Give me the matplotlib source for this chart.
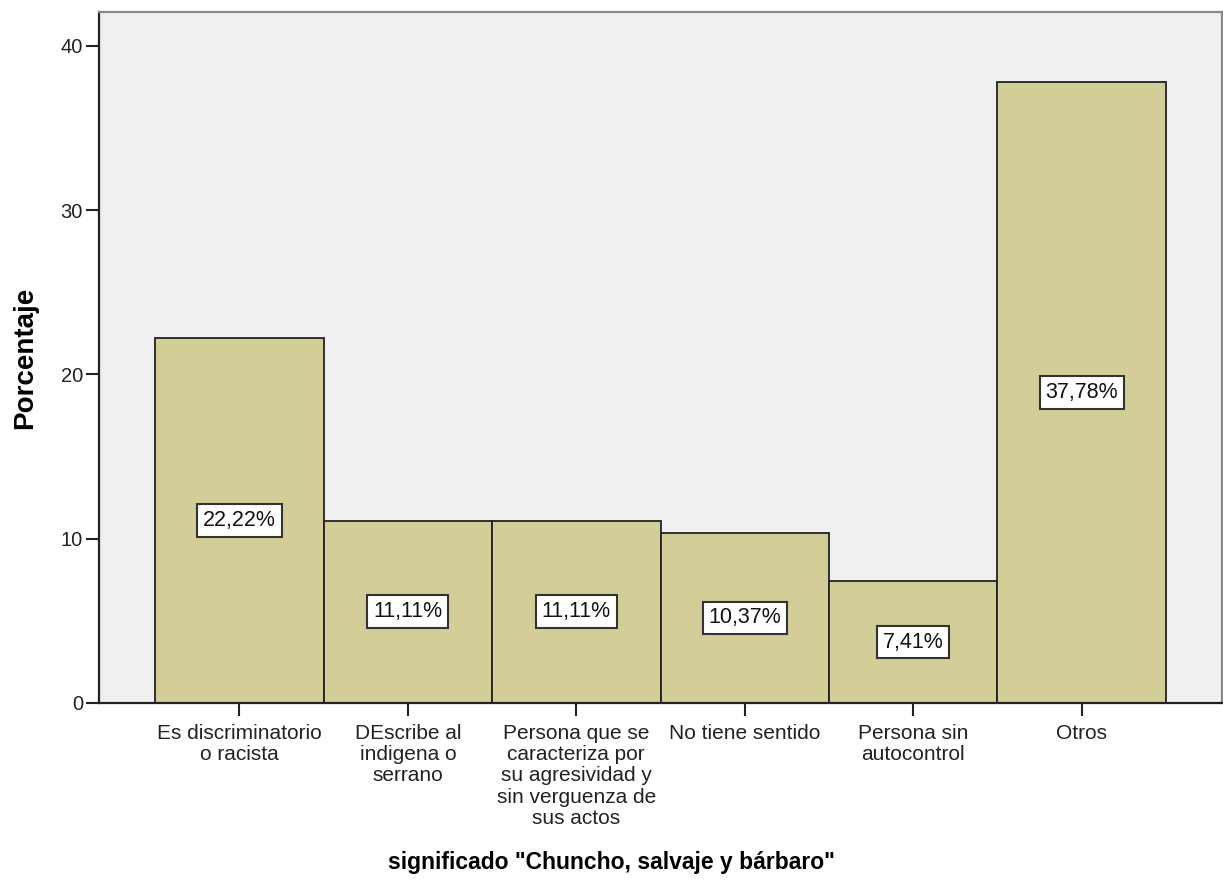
import matplotlib
matplotlib.use("Agg")
import matplotlib.pyplot as plt

# data
categories = [
    "Es discriminatorio\no racista",
    "DEscribe al\nindigena o\nserrano",
    "Persona que se\ncaracteriza por\nsu agresividad y\nsin verguenza de\nsus actos",
    "No tiene sentido",
    "Persona sin\nautocontrol",
    "Otros",
]
percentages = [22.22, 11.11, 11.11, 10.37, 7.41, 37.78]
value_labels = ["22,22%", "11,11%", "11,11%", "10,37%", "7,41%", "37,78%"]

plt.rcParams["font.family"] = ["Liberation Sans", "DejaVu Sans"]

fig = plt.figure(figsize=(12.23, 8.82), dpi=100)
# axes box placed to match the pixel layout of the original
ax = fig.add_axes([99 / 1223, 1 - 703 / 882, (1222 - 99) / 1223, (703 - 12) / 882])
ax.set_facecolor("#F0F0F0")

x = list(range(len(categories)))
ax.bar(x, percentages, width=1.0, color="#D3CE97", edgecolor="#222222", linewidth=1.3, zorder=2)

for xi, val, lab in zip(x, percentages, value_labels):
    ax.text(xi, val / 2, lab, ha="center", va="center", fontsize=15.5, color="#111111", zorder=3,
            bbox=dict(boxstyle="square,pad=0.27", facecolor="white", edgecolor="#333333", linewidth=1.5))

ax.set_xlim(-0.5 - 1 / 3, len(categories) - 0.5 + 1 / 3)
ax.set_ylim(0, 42.07)
ax.set_yticks([0, 10, 20, 30, 40])
ax.set_xticks(x)
ax.set_xticklabels(categories, fontsize=15, linespacing=1.15)
ax.tick_params(axis="y", labelsize=14.5, length=9.5, width=1.5, pad=2, colors="#222222")
ax.tick_params(axis="x", length=9, width=1.5, pad=6, colors="#222222")

for side in ["left", "bottom"]:
    ax.spines[side].set_linewidth(1.6)
    ax.spines[side].set_color("#222222")
for side in ["top", "right"]:
    ax.spines[side].set_linewidth(1.6)
    ax.spines[side].set_color("#888888")

ax.set_ylabel("Porcentaje", fontsize=20, fontweight="bold")
ax.set_xlabel('significado "Chuncho, salvaje y bárbaro"', fontsize=16.5, fontweight="bold")
ax.yaxis.set_label_coords((25 - 99) / 1123, 0.5)
ax.yaxis.label.set_va("center")
ax.xaxis.set_label_coords((611 - 99) / 1123, (703 - 862) / 691)
ax.xaxis.label.set_va("center")

fig.savefig("out.png", dpi=100)
